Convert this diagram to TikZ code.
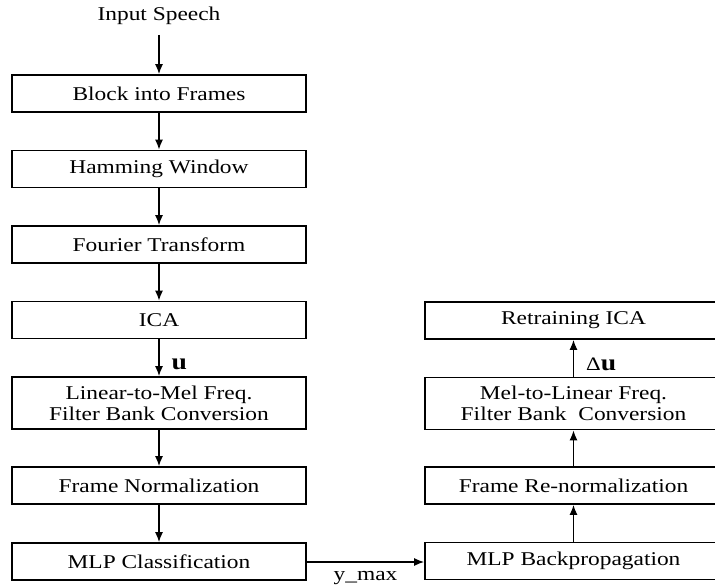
\documentclass[tikz,border=0pt]{standalone}
\usepackage{fontspec}
\setmainfont{Liberation Serif}[FakeStretch=1.2]
\usetikzlibrary{arrows.meta}
\begin{document}
\begin{tikzpicture}[x=1pt,y=-1pt,
  font=\fontsize{19.5}{22}\selectfont,
  stage/.style={draw,line width=1.8pt,minimum width=294pt,minimum height=37pt,
    inner sep=0pt,align=center},
  tall/.style={stage,minimum height=52pt,font=\fontsize{19.5}{21}\selectfont},
  flow/.style={line width=1.3pt,-{Latex[length=10pt,width=8pt]}},
  tag/.style={inner sep=2pt},
  vec/.style={font=\fontsize{23}{23}\selectfont\bfseries}]
\clip (0,0) rectangle (715,586);
\fill[white] (0,0) rectangle (715,586);

% analysis chain (left column)
\node[inner sep=0pt,outer ysep=10pt,anchor=center] (in) at (159,16) {Input Speech};
\node[stage] (blk) at (159,93.5) {Block into Frames};
\node[stage] (ham) at (159,169) {Hamming Window};
\node[stage] (fft) at (159,244.5) {Fourier Transform};
\node[stage] (ica) at (159,320) {ICA};
\node[tall]  (l2m) at (159,403) {Linear-to-Mel Freq.\\Filter Bank Conversion};
\node[stage] (nrm) at (159,485.5) {Frame Normalization};
\node[stage] (mlpc) at (159,561.5) {MLP Classification};

% adaptation chain (right column)
\node[stage,minimum width=297pt] (ret) at (573.5,320.5) {Retraining ICA};
\node[tall,minimum width=297pt]  (m2l) at (573.5,403.5) {Mel-to-Linear Freq.\\Filter Bank\ \ Conversion};
\node[stage,minimum width=297pt] (rnm) at (573.5,485.5) {Frame Re-normalization};
\node[stage,minimum width=297pt] (mlpb) at (573.5,561) {MLP Backpropagation};

% connectors
\draw[flow] (in.south) -- (blk.north);
\draw[flow] (blk) -- (ham);
\draw[flow] (ham) -- (fft);
\draw[flow] (fft) -- (ica);
\draw[flow] (ica) -- node[tag,vec,right,pos=0.68,xshift=10pt] {u} (l2m);
\draw[flow] (l2m) -- (nrm);
\draw[flow] (nrm) -- (mlpc);
\draw[flow] (mlpc.east |- 0,562) -- node[tag,below,yshift=-7pt] {y\_max} (mlpb.west |- 0,562);
\draw[flow] (mlpb) -- (rnm);
\draw[flow] (rnm) -- (m2l);
\draw[flow] (m2l) -- node[tag,right,pos=0.33,xshift=10pt] {{\fontsize{19}{19}\selectfont Δ}{\fontsize{23}{23}\selectfont\bfseries u}} (ret);
\end{tikzpicture}
\end{document}
